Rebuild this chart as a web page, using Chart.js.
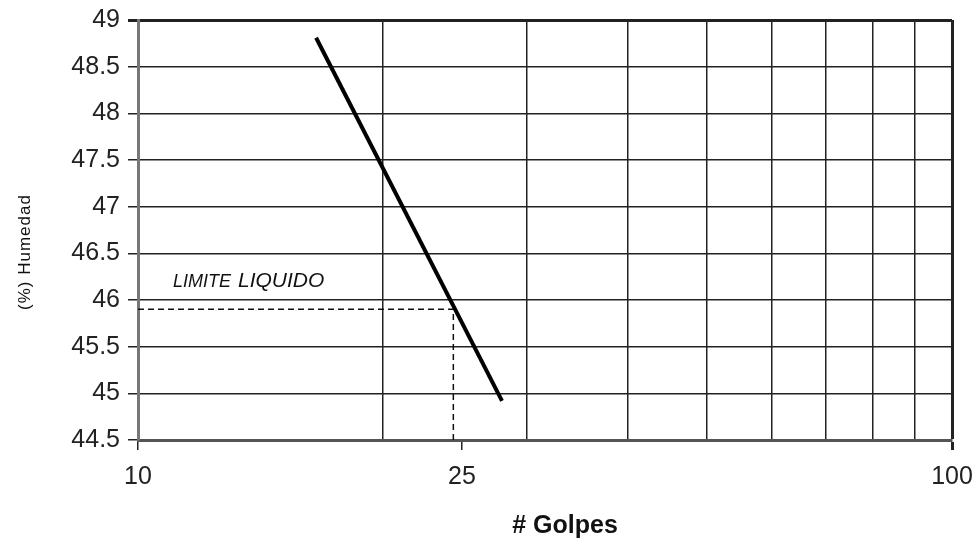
<!DOCTYPE html>
<html>
<head>
<meta charset="utf-8">
<script src="https://cdn.jsdelivr.net/npm/chart.js@4"></script>
<style>
  html, body { margin: 0; padding: 0; background: #fff; }
  #wrap { width: 979px; height: 547px; }
</style>
</head>
<body>
<div id="wrap"><canvas id="grafico"></canvas></div>
<script>
// Datos
const golpes = [16.55, 28];
const humedad = [48.81, 44.92];
const limiteGolpes = [10, 24.4, 24.4];
const limiteHumedad = [45.9, 45.9, 44.5];
const xGrid = [10, 20, 25, 30, 40, 50, 60, 70, 80, 90, 100];
const xEtiquetas = [10, 25, 100];

const FUENTE = "'Liberation Sans', Arial, sans-serif";

// Textos fuera de los ejes: títulos y la anotación
const textos = {
  id: "textos",
  afterDraw(chart) {
    const c = chart.ctx;
    c.save();
    c.fillStyle = "#111";
    c.textAlign = "center";
    c.textBaseline = "middle";
    c.font = "bold 25px " + FUENTE;
    c.fillText("# Golpes", 565, 526);

    c.translate(25, 252);
    c.rotate(-Math.PI / 2);
    c.font = "17px " + FUENTE;
    c.letterSpacing = "1px";
    c.fillText("(%) Humedad", 0, 0);
    c.restore();

    c.save();
    c.fillStyle = "#111";
    c.textBaseline = "alphabetic";
    c.textAlign = "left";
    c.font = "italic 18px " + FUENTE;
    c.fillText("LIMITE", 173, 287);
    c.font = "italic 21px " + FUENTE;
    c.fillText("LIQUIDO", 238, 287);
    c.restore();
  },
};

const ctx = document.getElementById("grafico").getContext("2d");
new Chart(ctx, {
  type: "line",
  data: {
    datasets: [
      {
        data: golpes.map((g, i) => ({ x: g, y: humedad[i] })),
        borderColor: "#000",
        borderWidth: 4,
        pointRadius: 0,
        tension: 0,
      },
      {
        data: limiteGolpes.map((g, i) => ({ x: g, y: limiteHumedad[i] })),
        borderColor: "#111",
        borderWidth: 1.5,
        borderDash: [6, 4],
        pointRadius: 0,
        tension: 0,
      },
    ],
  },
  options: {
    responsive: true,
    maintainAspectRatio: false,
    animation: false,
    layout: { padding: { top: 20, right: 27, left: 0, bottom: 0 } },
    plugins: {
      legend: { display: false },
      tooltip: { enabled: false },
    },
    scales: {
      x: {
        type: "logarithmic",
        min: 10,
        max: 100,
        afterBuildTicks(scale) {
          scale.ticks = xGrid.map((v) => ({ value: v }));
        },
        afterFit(scale) {
          scale.height = 107;
          scale.paddingLeft = 0;
          scale.paddingRight = 0;
        },
        grid: {
          color: (c) => (c.tick.value === 25 ? "rgba(0,0,0,0)" : "#222"),
          lineWidth: (c) => (c.tick.value === 100 ? 3 : 1.5),
          tickColor: (c) => (xEtiquetas.includes(c.tick.value) ? "#222" : "rgba(0,0,0,0)"),
          tickLength: 10,
        },
        border: { color: "#555", width: 3 },
        ticks: {
          autoSkip: false,
          maxRotation: 0,
          padding: 12,
          color: "#222",
          font: { family: FUENTE, size: 25 },
          callback: (v) => (xEtiquetas.includes(v) ? String(v) : ""),
        },
      },
      y: {
        min: 44.5,
        max: 49,
        afterFit(scale) {
          scale.width = 138;
          scale.paddingTop = 0;
          scale.paddingBottom = 0;
        },
        grid: {
          color: "#222",
          lineWidth: (c) => (c.tick.value === 49 ? 3 : 1.5),
          tickLength: 10,
        },
        border: { color: "#777", width: 3 },
        ticks: {
          stepSize: 0.5,
          padding: 8,
          color: "#222",
          font: { family: FUENTE, size: 25 },
          callback: (v) => String(Math.round(v * 10) / 10),
        },
      },
    },
  },
  plugins: [textos],
});
</script>
</body>
</html>
